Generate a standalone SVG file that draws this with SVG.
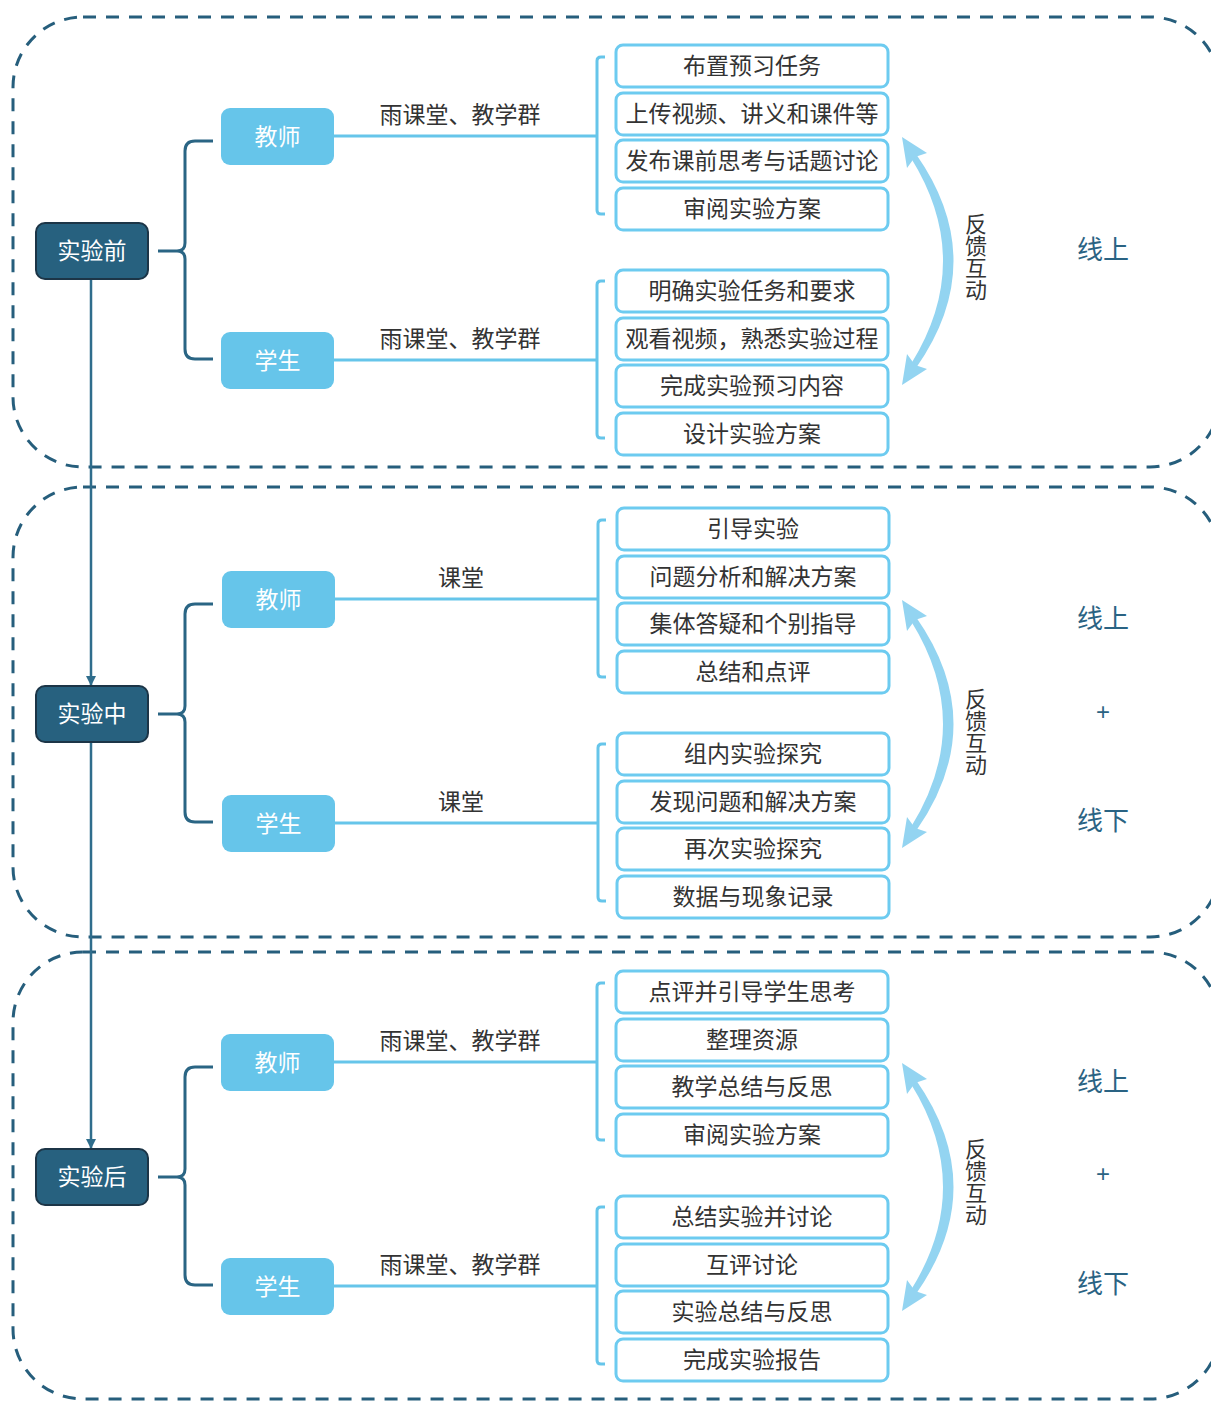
<svg xmlns="http://www.w3.org/2000/svg" xmlns:xlink="http://www.w3.org/1999/xlink" width="1211" height="1401" viewBox="0 0 1211 1401">
<style>
text{font-family:"Noto Sans CJK SC","Noto Sans",sans-serif;text-anchor:middle;dominant-baseline:central}
.zone{fill:none;stroke:#265e7c;stroke-width:3;stroke-dasharray:13 10}
.phase rect{fill:#27617f;stroke:#1c3547;stroke-width:2}
.phase text{fill:#ffffff;font-size:23px}
.role rect{fill:#66c5ea}
.role text{fill:#ffffff;font-size:23px}
.item rect{fill:#ffffff;stroke:#6dcbf0;stroke-width:3}
.item text{fill:#333333;font-size:23px}
.lbl{fill:#333333;font-size:23px}
.side{fill:#2a6383;font-size:26px}
.plus{fill:#2a6383;font-size:24px;font-family:"Liberation Sans",sans-serif}
.fbt{fill:#333333;font-size:22px;writing-mode:vertical-rl}
.brace{fill:none;stroke:#2a6584;stroke-width:3}
.bl{fill:none;stroke:#66c5ea;stroke-width:3}
.vline{fill:none;stroke:#2f6d8c;stroke-width:2.5}
</style>
<defs>
<marker id="ah" markerWidth="10" markerHeight="10" refX="9" refY="5" orient="auto" markerUnits="userSpaceOnUse">
<path d="M0,0 L10,5 L0,10 Z" fill="#2f6d8c"/>
</marker>
<g id="fb">
<path d="M916,154 Q991,261 916,368 L911,364 Q975,261 911,158 Z" fill="#93d4f1"/>
<polygon points="902,137 927,153 915,157 907,168" fill="#93d4f1"/>
<polygon points="902,385 927,369 915,365 907,354" fill="#93d4f1"/>
</g>
</defs>

<g id="zones">
<path class="zone" d="M83,17 H1150 A70,70 0 0 1 1220,87 V397 A70,70 0 0 1 1150,467 H83 A70,70 0 0 1 13,397 V87 A70,70 0 0 1 83,17 Z"/>
<path class="zone" d="M83,487 H1150 A70,70 0 0 1 1220,557 V867 A70,70 0 0 1 1150,937 H83 A70,70 0 0 1 13,867 V557 A70,70 0 0 1 83,487 Z"/>
<path class="zone" d="M83,952 H1150 A70,70 0 0 1 1220,1022 V1329 A70,70 0 0 1 1150,1399 H83 A70,70 0 0 1 13,1329 V1022 A70,70 0 0 1 83,952 Z"/>
</g>

<g id="connectors">
<path class="vline" d="M91,279 V685" marker-end="url(#ah)"/>
<path class="vline" d="M91,742 V1148" marker-end="url(#ah)"/>
<path class="brace" d="M213,141 H195 Q185,141 185,151 V243 Q185,251 177,251 H158 M177,251 Q185,251 185,259 V349 Q185,359 195,359 H213"/>
<path class="brace" d="M213,604 H195 Q185,604 185,614 V706 Q185,714 177,714 H158 M177,714 Q185,714 185,722 V812 Q185,822 195,822 H213"/>
<path class="brace" d="M213,1067 H195 Q185,1067 185,1077 V1169 Q185,1177 177,1177 H158 M177,1177 Q185,1177 185,1185 V1275 Q185,1285 195,1285 H213"/>
<path class="bl" d="M334,136 H597 M605,57 H601 Q597,57 597,61 V210 Q597,214 601,214 H605"/>
<path class="bl" d="M334,360 H597 M605,281 H601 Q597,281 597,285 V434 Q597,438 601,438 H605"/>
<path class="bl" d="M335,599 H598 M606,520 H602 Q598,520 598,524 V673 Q598,677 602,677 H606"/>
<path class="bl" d="M335,823 H598 M606,744 H602 Q598,744 598,748 V897 Q598,901 602,901 H606"/>
<path class="bl" d="M334,1062 H597 M605,983 H601 Q597,983 597,987 V1136 Q597,1140 601,1140 H605"/>
<path class="bl" d="M334,1286 H597 M605,1207 H601 Q597,1207 597,1211 V1360 Q597,1364 601,1364 H605"/>
<use xlink:href="#fb"/>
<use xlink:href="#fb" y="463"/>
<use xlink:href="#fb" y="926"/>
</g>

<g id="labels">
<text class="lbl" x="460" y="113">雨课堂、教学群</text>
<text class="lbl" x="460" y="337">雨课堂、教学群</text>
<text class="lbl" x="461" y="576">课堂</text>
<text class="lbl" x="461" y="800">课堂</text>
<text class="lbl" x="460" y="1039">雨课堂、教学群</text>
<text class="lbl" x="460" y="1263">雨课堂、教学群</text>
</g>

<g id="phase-before" class="phase"><rect x="36" y="223" width="112" height="56" rx="9"/><text x="92" y="249">实验前</text></g>
<g id="phase-during" class="phase"><rect x="36" y="686" width="112" height="56" rx="9"/><text x="92" y="712">实验中</text></g>
<g id="phase-after" class="phase"><rect x="36" y="1149" width="112" height="56" rx="9"/><text x="92" y="1175">实验后</text></g>

<g id="teacher-1" class="role"><rect x="221" y="108" width="113" height="57" rx="9"/><text x="277.5" y="134.5">教师</text></g>
<g id="student-1" class="role"><rect x="221" y="332" width="113" height="57" rx="9"/><text x="277.5" y="358.5">学生</text></g>
<g id="teacher-2" class="role"><rect x="222" y="571" width="113" height="57" rx="9"/><text x="278.5" y="597.5">教师</text></g>
<g id="student-2" class="role"><rect x="222" y="795" width="113" height="57" rx="9"/><text x="278.5" y="821.5">学生</text></g>
<g id="teacher-3" class="role"><rect x="221" y="1034" width="113" height="57" rx="9"/><text x="277.5" y="1060.5">教师</text></g>
<g id="student-3" class="role"><rect x="221" y="1258" width="113" height="57" rx="9"/><text x="277.5" y="1284.5">学生</text></g>

<g id="i1-1" class="item"><rect x="616" y="45" width="272" height="42" rx="7"/><text x="752" y="64">布置预习任务</text></g>
<g id="i1-2" class="item"><rect x="616" y="93" width="272" height="42" rx="7"/><text x="752" y="112">上传视频、讲义和课件等</text></g>
<g id="i1-3" class="item"><rect x="616" y="140" width="272" height="42" rx="7"/><text x="752" y="159">发布课前思考与话题讨论</text></g>
<g id="i1-4" class="item"><rect x="616" y="188" width="272" height="42" rx="7"/><text x="752" y="207">审阅实验方案</text></g>
<g id="i1-5" class="item"><rect x="616" y="270" width="272" height="42" rx="7"/><text x="752" y="289">明确实验任务和要求</text></g>
<g id="i1-6" class="item"><rect x="616" y="318" width="272" height="42" rx="7"/><text x="752" y="337">观看视频，熟悉实验过程</text></g>
<g id="i1-7" class="item"><rect x="616" y="365" width="272" height="42" rx="7"/><text x="752" y="384">完成实验预习内容</text></g>
<g id="i1-8" class="item"><rect x="616" y="413" width="272" height="42" rx="7"/><text x="752" y="432">设计实验方案</text></g>

<g id="i2-1" class="item"><rect x="617" y="508" width="272" height="42" rx="7"/><text x="753" y="527">引导实验</text></g>
<g id="i2-2" class="item"><rect x="617" y="556" width="272" height="42" rx="7"/><text x="753" y="575">问题分析和解决方案</text></g>
<g id="i2-3" class="item"><rect x="617" y="603" width="272" height="42" rx="7"/><text x="753" y="622">集体答疑和个别指导</text></g>
<g id="i2-4" class="item"><rect x="617" y="651" width="272" height="42" rx="7"/><text x="753" y="670">总结和点评</text></g>
<g id="i2-5" class="item"><rect x="617" y="733" width="272" height="42" rx="7"/><text x="753" y="752">组内实验探究</text></g>
<g id="i2-6" class="item"><rect x="617" y="781" width="272" height="42" rx="7"/><text x="753" y="800">发现问题和解决方案</text></g>
<g id="i2-7" class="item"><rect x="617" y="828" width="272" height="42" rx="7"/><text x="753" y="847">再次实验探究</text></g>
<g id="i2-8" class="item"><rect x="617" y="876" width="272" height="42" rx="7"/><text x="753" y="895">数据与现象记录</text></g>

<g id="i3-1" class="item"><rect x="616" y="971" width="272" height="42" rx="7"/><text x="752" y="990">点评并引导学生思考</text></g>
<g id="i3-2" class="item"><rect x="616" y="1019" width="272" height="42" rx="7"/><text x="752" y="1038">整理资源</text></g>
<g id="i3-3" class="item"><rect x="616" y="1066" width="272" height="42" rx="7"/><text x="752" y="1085">教学总结与反思</text></g>
<g id="i3-4" class="item"><rect x="616" y="1114" width="272" height="42" rx="7"/><text x="752" y="1133">审阅实验方案</text></g>
<g id="i3-5" class="item"><rect x="616" y="1196" width="272" height="42" rx="7"/><text x="752" y="1215">总结实验并讨论</text></g>
<g id="i3-6" class="item"><rect x="616" y="1244" width="272" height="42" rx="7"/><text x="752" y="1263">互评讨论</text></g>
<g id="i3-7" class="item"><rect x="616" y="1291" width="272" height="42" rx="7"/><text x="752" y="1310">实验总结与反思</text></g>
<g id="i3-8" class="item"><rect x="616" y="1339" width="272" height="42" rx="7"/><text x="752" y="1358">完成实验报告</text></g>

<g id="feedback-text">
<text class="fbt" x="976" y="257">反馈互动</text>
<text class="fbt" x="976" y="732">反馈互动</text>
<text class="fbt" x="976" y="1182">反馈互动</text>
</g>

<g id="mode-text">
<text class="side" x="1103" y="247">线上</text>
<text class="side" x="1103" y="616">线上</text>
<text class="plus" x="1103" y="711">+</text>
<text class="side" x="1103" y="818">线下</text>
<text class="side" x="1103" y="1079">线上</text>
<text class="plus" x="1103" y="1173">+</text>
<text class="side" x="1103" y="1281">线下</text>
</g>
</svg>
